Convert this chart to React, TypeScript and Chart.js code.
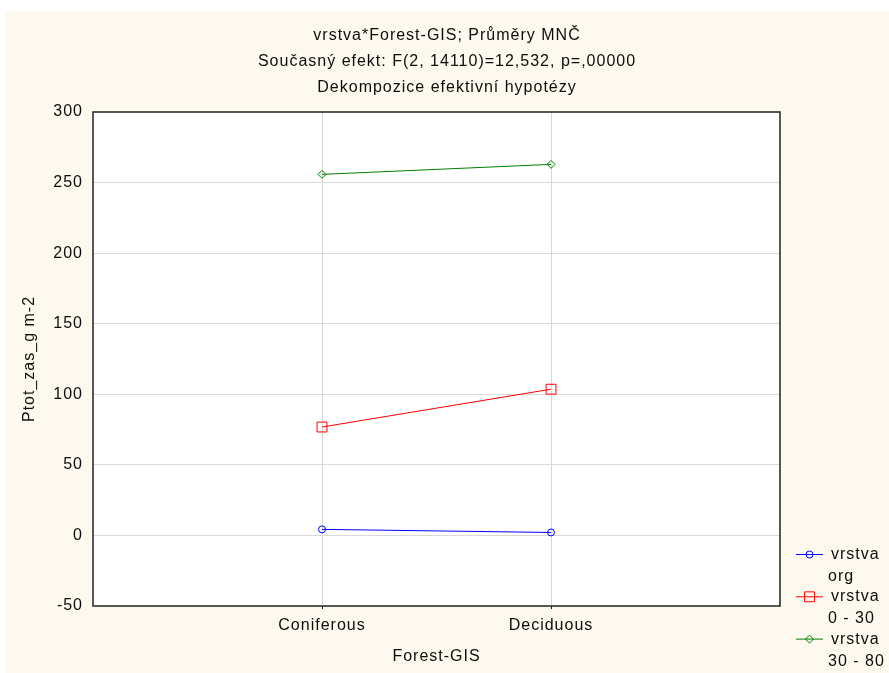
import React, { useEffect, useRef } from 'react';
import { Chart, registerables } from 'chart.js';

Chart.register(...registerables);

// ---- data ----
const titleLines = [
  'vrstva*Forest-GIS; Průměry MNČ',
  'Současný efekt: F(2, 14110)=12,532, p=,00000',
  'Dekompozice efektivní hypotézy',
];
const categories = ['Coniferous', 'Deciduous'];
const xAxisTitle = 'Forest-GIS';
const yAxisTitle = 'Ptot_zas_g m-2';
const yMin = -50;
const yMax = 300;
const yStep = 50;

const labelOrg = ['vrstva', 'org'];
const label0_30 = ['vrstva', '0 - 30'];
const label30_80 = ['vrstva', '30 - 80'];

const valuesOrg = [4.3, 2.1];
const values0_30 = [76.8, 103.6];
const values30_80 = [255.8, 262.9];

// ---- styles ----
const FONT = "'Liberation Sans', Arial, sans-serif";
const TEXT = '#0d0d0d';
const CREAM = '#fef9ee';
const GRID = '#d9d9d9';
const FRAME = '#222222';

const toPoints = (vals: number[]) => vals.map((v, i) => ({ x: i + 1, y: v }));

const spacingPlugin = {
  id: 'spacing',
  beforeLayout(chart: any) {
    chart.ctx.letterSpacing = '1px';
  },
  beforeDraw(chart: any) {
    chart.ctx.letterSpacing = '1px';
  },
};

const bgPlugin = {
  id: 'bg',
  beforeDraw(chart: any) {
    const { ctx, chartArea, width, height } = chart;
    ctx.save();
    ctx.fillStyle = CREAM;
    ctx.fillRect(0, 0, width, height);
    ctx.fillStyle = '#ffffff';
    ctx.fillRect(chartArea.left, chartArea.top, chartArea.right - chartArea.left, chartArea.bottom - chartArea.top);
    ctx.restore();
  },
  afterDatasetsDraw(chart: any) {
    const { ctx, chartArea } = chart;
    ctx.save();
    ctx.strokeStyle = FRAME;
    ctx.lineWidth = 1.5;
    ctx.strokeRect(chartArea.left, chartArea.top, chartArea.right - chartArea.left, chartArea.bottom - chartArea.top);
    ctx.restore();
  },
};

function drawMarker(ctx: CanvasRenderingContext2D, style: string, r: number, x: number, y: number) {
  ctx.beginPath();
  if (style === 'rect') {
    const h = r * Math.SQRT1_2;
    ctx.rect(x - h, y - h, 2 * h, 2 * h);
  } else if (style === 'rectRot') {
    ctx.moveTo(x - r, y);
    ctx.lineTo(x, y - r);
    ctx.lineTo(x + r, y);
    ctx.lineTo(x, y + r);
    ctx.closePath();
  } else {
    ctx.arc(x, y, r, 0, Math.PI * 2);
  }
  ctx.stroke();
}

const legendPlugin = {
  id: 'customLegend',
  afterDraw(chart: any) {
    const { ctx, chartArea } = chart;
    const x0 = chartArea.right + 16;
    const x1 = x0 + 27;
    const textX = x1 + 8;
    const top = 543.5;
    const gap = 42.3;
    const lineGap = 22;
    ctx.save();
    ctx.letterSpacing = '1px';
    ctx.font = `16px ${FONT}`;
    ctx.textBaseline = 'middle';
    ctx.textAlign = 'left';
    chart.data.datasets.forEach((ds: any, i: number) => {
      const y = top + i * gap;
      ctx.strokeStyle = ds.borderColor;
      ctx.lineWidth = 1;
      ctx.beginPath();
      ctx.moveTo(x0, y);
      ctx.lineTo(x1, y);
      ctx.stroke();
      drawMarker(ctx, ds.pointStyle, ds.pointRadius, (x0 + x1) / 2, y);
      ctx.fillStyle = TEXT;
      (ds.label as string[]).forEach((t, j) => {
        ctx.fillText(t, textX - (j > 0 ? 3 : 0), y + j * lineGap);
      });
    });
    ctx.restore();
  },
};

export default function App() {
  const ref = useRef<HTMLCanvasElement>(null);

  useEffect(() => {
    if (!ref.current) return;
    const mk = (label: string[], vals: number[], color: string, style: string, r: number) => ({
      label: label as any,
      data: toPoints(vals),
      borderColor: color,
      backgroundColor: color,
      borderWidth: 1,
      pointStyle: style,
      pointRadius: r,
      pointBorderWidth: 1,
      pointBorderColor: color,
      pointBackgroundColor: 'rgba(0,0,0,0)',
      tension: 0,
      yAxisID: 'y',
      xAxisID: 'x',
    });
    const edge = (v: number, lo: number, hi: number) => v <= lo || v >= hi;
    const chart = new Chart(ref.current, {
      type: 'line',
      data: {
        datasets: [
          mk(labelOrg, valuesOrg, '#0000ff', 'circle', 3.5),
          mk(label0_30, values0_30, '#ff0000', 'rect', 7),
          mk(label30_80, values30_80, '#008000', 'rectRot', 4),
        ] as any,
      },
      options: {
        animation: false,
        responsive: false,
        devicePixelRatio: 1,
        layout: { padding: 0 },
        plugins: {
          legend: { display: false },
          tooltip: { enabled: false },
          title: {
            display: true,
            text: titleLines,
            color: TEXT,
            font: { family: FONT, size: 16, weight: 'normal', lineHeight: 1.625 },
            padding: { top: 12, bottom: 11 },
          },
        },
        scales: {
          x: {
            type: 'linear',
            min: 0,
            max: categories.length + 1,
            afterBuildTicks: (s: any) => {
              const t = [];
              for (let i = 0; i <= categories.length + 1; i++) t.push({ value: i });
              s.ticks = t;
            },
            afterFit: (s: any) => {
              s.height = 67;
            },
            ticks: {
              autoSkip: false,
              maxRotation: 0,
              padding: 6.5,
              color: TEXT,
              font: { family: FONT, size: 16 },
              callback: (v: any) => categories[Number(v) - 1] ?? '',
            },
            grid: {
              color: (c: any) => (edge(c.tick?.value, 0, categories.length + 1) ? 'rgba(0,0,0,0)' : GRID),
              tickColor: (c: any) => (edge(c.tick?.value, 0, categories.length + 1) ? 'rgba(0,0,0,0)' : FRAME),
              tickLength: 3,
              lineWidth: 1,
            },
            border: { display: false },
            title: {
              display: true,
              text: xAxisTitle,
              color: TEXT,
              font: { family: FONT, size: 16 },
              padding: { top: 0, bottom: 6.4 },
            },
          },
          y: {
            type: 'linear',
            position: 'left',
            min: yMin,
            max: yMax,
            afterFit: (s: any) => {
              s.width = 88;
            },
            ticks: {
              stepSize: yStep,
              padding: 10,
              color: TEXT,
              font: { family: FONT, size: 16 },
            },
            grid: {
              color: (c: any) => (edge(c.tick?.value, yMin, yMax) ? 'rgba(0,0,0,0)' : GRID),
              drawTicks: false,
              lineWidth: 1,
            },
            border: { display: false },
            title: {
              display: true,
              text: yAxisTitle,
              color: TEXT,
              font: { family: FONT, size: 16 },
              padding: { top: 15.4, bottom: 0 },
            },
          },
          legendSpace: {
            type: 'linear',
            position: 'right',
            display: true,
            min: yMin,
            max: yMax,
            afterFit: (s: any) => {
              s.width = 109;
            },
            ticks: { display: false },
            grid: { display: false, drawOnChartArea: false, drawTicks: false },
            border: { display: false },
            title: { display: false },
          },
        },
      } as any,
      plugins: [spacingPlugin, bgPlugin, legendPlugin],
    });
    return () => chart.destroy();
  }, []);

  return (
    <div style={{ position: 'absolute', left: 5, top: 11, width: 884, height: 662 }}>
      <canvas ref={ref} width={884} height={662} style={{ display: 'block', width: 884, height: 662 }} />
    </div>
  );
}
